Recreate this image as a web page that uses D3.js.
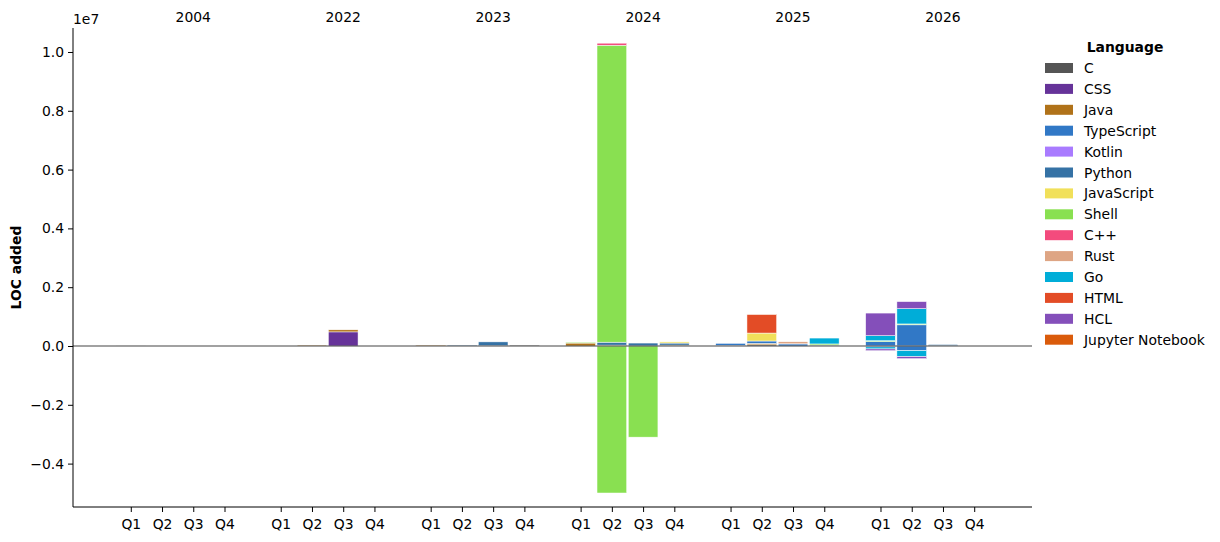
<!DOCTYPE html>
<html>
<head>
<meta charset="utf-8">
<script src="https://cdn.jsdelivr.net/npm/d3@7"></script>
<style>
  body { margin: 0; background: #fff; }
  text { font-family: "DejaVu Sans", sans-serif; }
</style>
</head>
<body>
<div id="chart"><svg></svg></div>
<script>
// Years and quarters along the x axis
const years = ["2004", "2022", "2023", "2024", "2025", "2026"]
const quarters = ["Q1", "Q2", "Q3", "Q4"]

// Languages in stacking / legend order
const languages = ["C", "CSS", "Java", "TypeScript", "Kotlin", "Python", "JavaScript",
    "Shell", "C++", "Rust", "Go", "HTML", "HCL", "Jupyter Notebook"]
const colors = ["#555555", "#663399", "#b07219", "#3178c6", "#a97bff", "#3572a5", "#f1e05a",
    "#89e051", "#f34b7d", "#dea584", "#00add8", "#e34c26", "#844fba", "#da5b0b"]

// LOC added per quarter (2004 Q1..Q4, 2022 Q1..Q4, ... 2026 Q1..Q4)
const added = {
    "C":                [2000, 0, 0, 0,   0, 0, 0, 0,   0, 0, 10000, 30000,   0, 0, 0, 0,   0, 40000, 0, 0,   0, 0, 10000, 0],
    "CSS":              [0, 0, 0, 0,   0, 0, 480000, 0,   0, 0, 0, 0,   0, 0, 0, 0,   0, 0, 0, 0,   0, 0, 0, 0],
    "Java":             [0, 0, 0, 0,   0, 30000, 70000, 0,   30000, 0, 0, 0,   100000, 30000, 0, 30000,   20000, 50000, 0, 0,   0, 0, 0, 0],
    "TypeScript":       [0, 0, 0, 0,   0, 0, 0, 0,   0, 0, 0, 0,   0, 0, 0, 0,   70000, 80000, 70000, 0,   150000, 720000, 0, 0],
    "Kotlin":           [0, 0, 0, 0,   0, 0, 0, 0,   0, 0, 0, 0,   0, 0, 0, 0,   0, 0, 5000, 0,   0, 0, 0, 0],
    "Python":           [0, 0, 0, 0,   0, 0, 0, 0,   0, 30000, 130000, 0,   0, 100000, 100000, 70000,   0, 0, 0, 30000,   0, 0, 40000, 0],
    "JavaScript":       [0, 0, 0, 0,   0, 0, 0, 0,   0, 0, 0, 0,   0, 0, 0, 40000,   0, 270000, 0, 0,   0, 0, 0, 0],
    "Shell":            [0, 0, 0, 0,   0, 0, 0, 0,   0, 0, 0, 0,   30000, 10100000, 0, 0,   0, 0, 0, 40000,   30000, 30000, 0, 0],
    "C++":              [0, 0, 0, 0,   0, 0, 0, 0,   0, 0, 0, 0,   0, 70000, 0, 0,   0, 0, 0, 0,   0, 0, 0, 0],
    "Rust":             [0, 0, 0, 0,   0, 0, 0, 0,   0, 0, 0, 0,   0, 0, 0, 0,   0, 0, 70000, 0,   0, 0, 0, 0],
    "Go":               [0, 0, 0, 0,   0, 0, 0, 0,   0, 0, 0, 0,   0, 0, 0, 0,   0, 0, 0, 200000,   170000, 520000, 0, 0],
    "HTML":             [0, 0, 0, 0,   0, 0, 0, 0,   0, 0, 0, 0,   0, 0, 0, 0,   0, 640000, 0, 0,   0, 0, 0, 0],
    "HCL":              [0, 0, 0, 0,   0, 0, 0, 0,   0, 0, 0, 0,   0, 0, 0, 0,   0, 0, 0, 0,   770000, 240000, 0, 0],
    "Jupyter Notebook": [0, 0, 0, 0,   0, 0, 0, 0,   0, 0, 0, 0,   0, 0, 0, 0,   0, 5000, 0, 0,   0, 0, 0, 0]
}

// LOC removed per quarter (negative), only languages that have any
const removed = {
    "TypeScript": [0, 0, 0, 0,   0, 0, 0, 0,   0, 0, 0, 0,   0, 0, 0, 0,   0, 0, 0, 0,   -30000, -160000, 0, 0],
    "Shell":      [0, 0, 0, 0,   0, 0, 0, 0,   0, 0, 0, 0,   0, -5000000, -3100000, 0,   0, 0, 0, 0,   0, 0, 0, 0],
    "Go":         [0, 0, 0, 0,   0, 0, 0, 0,   0, 0, 0, 0,   0, 0, 0, 0,   0, 0, 0, 0,   -70000, -200000, 0, 0],
    "HCL":        [0, 0, 0, 0,   0, 0, 0, 0,   0, 0, 0, 0,   0, 0, 0, 0,   0, 0, 0, 0,   -60000, -70000, 0, 0]
}

const yTicks = [-0.4e7, -0.2e7, 0, 0.2e7, 0.4e7, 0.6e7, 0.8e7, 1.0e7]

class LocChart {
    constructor() {
        this.frame = { left: 73, right: 1032, top: 28, bottom: 507 }
        this.groupStep = 4.8
        this.barWidth = 0.95
        this.fontSize = 13.9
        this.setUp()
    }

    setUp() {
        let svg = d3.select("#chart").select("svg")
            .attr("width", 1220)
            .attr("height", 542)

        // x position of each quarter, with a gap between years
        this.slots = []
        years.forEach((y, g) => quarters.forEach((q, i) => {
            this.slots.push({ year: y, quarter: q, pos: g * this.groupStep + i })
        }))
        let last = (years.length - 1) * this.groupStep + 3

        this.x = d3.scaleLinear()
            .domain([-1.85, last + 1.85])
            .range([this.frame.left, this.frame.right])

        this.y = d3.scaleLinear()
            .domain([-0.5476e7, 1.0816e7])
            .range([this.frame.bottom, this.frame.top])

        this.drawBars(svg)
        this.drawAxes(svg)
        this.drawLegend(svg)
    }

    drawBars(svg) {
        // keys: "lang|a" for added, "lang|r" for removed, in language order
        let keys = []
        languages.forEach(l => {
            keys.push(l + "|a")
            if (removed[l]) keys.push(l + "|r")
        })
        let rows = this.slots.map((s, i) => {
            let row = { pos: s.pos }
            languages.forEach(l => {
                row[l + "|a"] = added[l][i]
                if (removed[l]) row[l + "|r"] = removed[l][i]
            })
            return row
        })

        let stacked = d3.stack()
            .keys(keys)
            .offset(d3.stackOffsetDiverging)(rows)

        let colorOf = d3.scaleOrdinal().domain(languages).range(colors)
        let half = (this.x(this.barWidth) - this.x(0)) / 2

        let layers = svg.append("g").attr("class", "bars")
            .selectAll("g")
            .data(stacked)
            .join("g")
            .attr("fill", d => colorOf(d.key.split("|")[0]))

        layers.selectAll("rect")
            .data(d => d.filter(v => v[1] - v[0] !== 0))
            .join("rect")
            .attr("x", d => this.x(d.data.pos) - half)
            .attr("width", half * 2)
            .attr("y", d => this.y(Math.max(d[0], d[1])))
            .attr("height", d => Math.abs(this.y(d[0]) - this.y(d[1])))
            .attr("stroke", "#fff")
            .attr("stroke-width", 0.5)

        // zero line
        svg.append("line")
            .attr("x1", this.frame.left)
            .attr("x2", this.frame.right)
            .attr("y1", this.y(0))
            .attr("y2", this.y(0))
            .attr("stroke", "#444")
            .attr("stroke-width", 1.2)
    }

    drawAxes(svg) {
        let fmt = d => d3.format(".1f")(d / 1e7).replace("-", "\u2212")

        let yAxis = svg.append("g")
            .attr("transform", "translate(" + this.frame.left + ",0)")
            .call(d3.axisLeft(this.y).tickValues(yTicks).tickFormat(fmt).tickSize(5).tickPadding(4))
        yAxis.select(".domain").attr("d", "M0," + this.frame.top + "V" + this.frame.bottom)

        let xAxis = svg.append("g")
            .attr("transform", "translate(0," + this.frame.bottom + ")")
            .call(d3.axisBottom(this.x)
                .tickValues(this.slots.map(s => s.pos))
                .tickFormat((d, i) => this.slots[i].quarter)
                .tickSize(5).tickPadding(7))
        xAxis.select(".domain").attr("d", "M" + this.frame.left + ",0H" + this.frame.right)

        svg.selectAll(".tick text")
            .attr("font-family", "DejaVu Sans, sans-serif")
            .attr("font-size", this.fontSize)
            .attr("fill", "#000")
        svg.selectAll(".tick line").attr("stroke", "#000")
        svg.selectAll(".domain").attr("stroke", "#000")

        // year labels on top, at the third quarter of each group
        svg.append("g").selectAll("text")
            .data(years)
            .join("text")
            .attr("x", (d, g) => this.x(g * this.groupStep + 2))
            .attr("y", 22)
            .attr("text-anchor", "middle")
            .attr("font-size", this.fontSize)
            .text(d => d)

        // offset text
        svg.append("text")
            .attr("x", this.frame.left)
            .attr("y", 24)
            .attr("font-size", this.fontSize)
            .text("1e7")

        svg.append("text")
            .attr("transform", "translate(21," + (this.frame.top + this.frame.bottom) / 2 + ") rotate(-90)")
            .attr("text-anchor", "middle")
            .attr("font-size", this.fontSize)
            .attr("font-weight", "bold")
            .text("LOC added")
    }

    drawLegend(svg) {
        let legend = svg.append("g").attr("class", "legend")

        legend.append("text")
            .attr("x", 1125)
            .attr("y", 52)
            .attr("text-anchor", "middle")
            .attr("font-size", this.fontSize)
            .attr("font-weight", "bold")
            .text("Language")

        let items = legend.selectAll("g.item")
            .data(languages)
            .join("g")
            .attr("class", "item")
            .attr("transform", (d, i) => "translate(1045," + (68 + i * 20.9) + ")")

        items.append("rect")
            .attr("x", 0)
            .attr("y", -5)
            .attr("width", 28)
            .attr("height", 10)
            .attr("fill", (d, i) => colors[i])

        items.append("text")
            .attr("x", 39)
            .attr("y", 5)
            .attr("font-size", this.fontSize)
            .text(d => d)
    }
}

new LocChart()
</script>
</body>
</html>
